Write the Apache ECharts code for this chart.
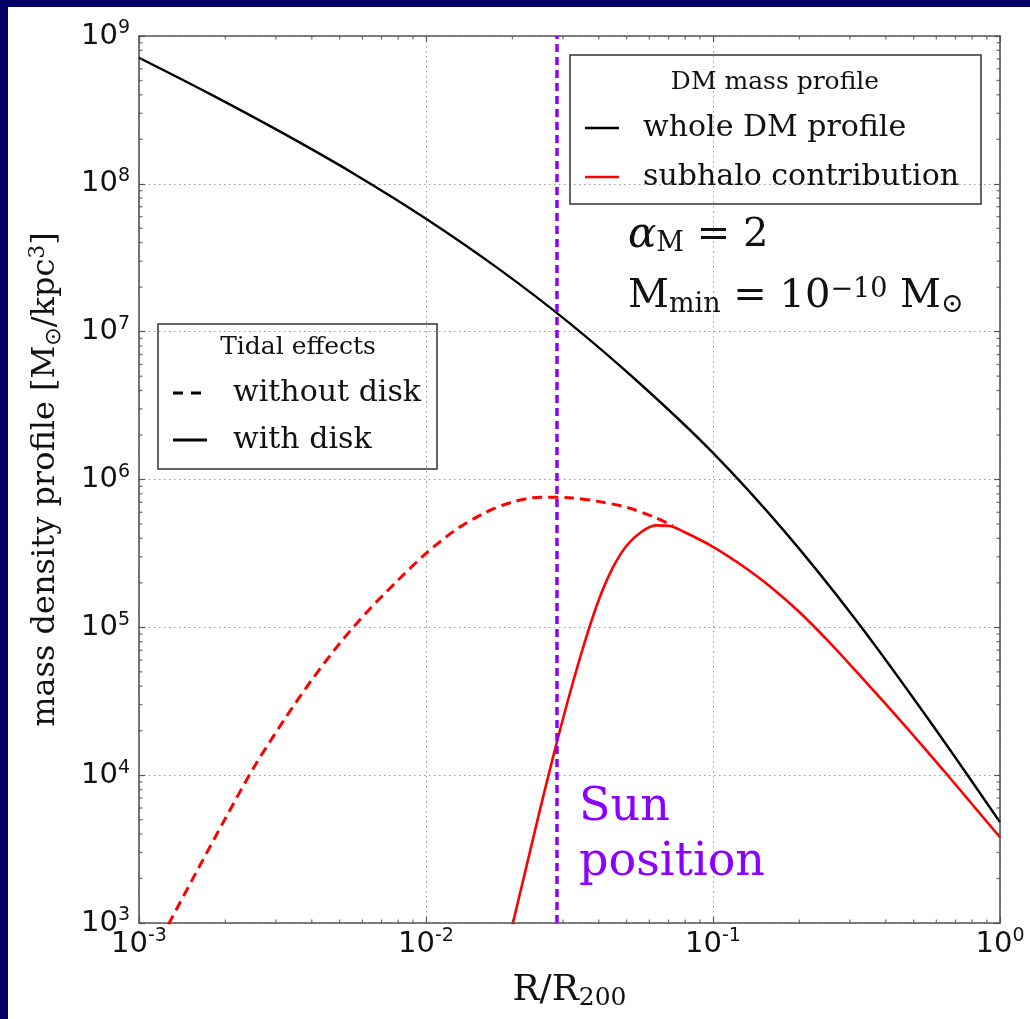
<!DOCTYPE html>
<html><head><meta charset="utf-8">
<script src="https://cdn.jsdelivr.net/npm/echarts@6/dist/echarts.min.js"></script>
<style>
html,body{margin:0;padding:0;background:#000066;width:1030px;height:1019px;overflow:hidden;}
#c{position:absolute;left:8px;top:7px;width:1022px;height:1012px;background:#ffffff;}
</style></head>
<body><div id="c"></div>
<script>
// ---- data (R/R200, density in Msun/kpc^3) ----
var dmR   = [0.001, 0.001778, 0.003162, 0.005623, 0.01, 0.01778, 0.03162, 0.05623, 0.1, 0.1778, 0.3162, 0.5623, 1.0];
var dmRho = [7.13e8, 4.03e8, 2.21e8, 1.167e8, 5.81e7, 2.69e7, 1.143e7, 4.375e6, 1.514e6, 4.44e5, 1.109e5, 2.40e4, 4.81e3];

var diskR   = [0.01905, 0.01995, 0.02239, 0.02512, 0.02818, 0.03162, 0.03548, 0.03981, 0.04467, 0.05012, 0.05623, 0.0631, 0.07079, 0.07943,
               0.1, 0.1259, 0.1585, 0.1995, 0.2512, 0.3162, 0.3981, 0.5012, 0.631, 0.7943, 1.0];
var diskRho = [646, 946, 2415, 6152, 15070, 34990, 75860, 149600, 251200, 358900, 441600, 489800, 484200, 441600,
               350800, 263000, 188400, 127400, 81280, 50120, 30550, 18410, 10960, 6457, 3802];

var noDiskR   = [0.001122, 0.001259, 0.001585, 0.001995, 0.002512, 0.003162, 0.003981, 0.005012, 0.00631, 0.007943, 0.01,
                 0.01259, 0.01585, 0.01995, 0.02512, 0.03162, 0.03981, 0.05012, 0.0631, 0.07244];
var noDiskRho = [631, 959, 2213, 5058, 11270, 22750, 43550, 78160, 130600, 206100, 316200,
                 451900, 588800, 703100, 758600, 753400, 711200, 647100, 552100, 487500];

var sunR = 0.0286;

var xTickExps = [-3, -2, -1, 0];
var yTickExps = [3, 4, 5, 6, 7, 8, 9];

// ---- helpers ----
function pairs(xs, ys){ var o=[]; for(var i=0;i<xs.length;i++) o.push([xs[i], ys[i]]); return o; }
function X(v){ return v - 8; }   // page -> chart coords
function Y(v){ return v - 7; }

var xMin = Math.pow(10, xTickExps[0]), xMax = Math.pow(10, xTickExps[xTickExps.length-1]);
var yMin = Math.pow(10, yTickExps[0]), yMax = Math.pow(10, yTickExps[yTickExps.length-1]);

// minor tick positions (axis decoration)
var xMinor = [], yMinor = [];
for (var e = xTickExps[0]; e < xTickExps[xTickExps.length-1]; e++) for (var k = 2; k <= 9; k++) xMinor.push(k*Math.pow(10,e));
for (var e2 = yTickExps[0]; e2 < yTickExps[yTickExps.length-1]; e2++) for (var k2 = 2; k2 <= 9; k2++) yMinor.push(k2*Math.pow(10,e2));

var AX = '#555';
var tickFmt = function(v){ var ex = Math.round(Math.log10(v)); return '{b|10}{s|' + ex + '}'; };
var tickRich = {
  b: {fontFamily:'DejaVu Sans', fontSize:29, color:'#111', lineHeight:34},
  s: {fontFamily:'DejaVu Sans', fontSize:19, color:'#111', lineHeight:20, verticalAlign:'top'}
};
function minorSeries(data, size, offset){
  return {type:'scatter', data:data, symbol:'rect', symbolSize:size, symbolOffset:offset,
    itemStyle:{color:AX}, silent:true, clip:false, z:6, animation:false, emphasis:{disabled:true}};
}
var serif = 'DejaVu Serif';

var option = {
  animation:false,
  backgroundColor:'#ffffff',
  grid:{left:X(139), right:30, top:Y(36), bottom:96, containLabel:false},
  xAxis:[
    {type:'log', logBase:10, min:xMin, max:xMax, interval:1, position:'bottom',
     axisLine:{show:true, onZero:false, lineStyle:{color:AX, width:1.6}},
     axisTick:{show:true, inside:true, length:6, lineStyle:{color:AX, width:1.2}},
     axisLabel:{formatter:tickFmt, rich:tickRich, margin:4, showMinLabel:true, showMaxLabel:true, hideOverlap:false},
     splitLine:{show:true, lineStyle:{color:'#9a9a9a', width:1, type:[1.5,3.5]}},
     name:'{n|R/R}{sub|200}', nameLocation:'middle', nameGap:48,
     nameTextStyle:{rich:{n:{fontFamily:serif, fontSize:36, color:'#111', lineHeight:40}, sub:{fontFamily:serif, fontSize:25, color:'#111', lineHeight:24, verticalAlign:'bottom'}}}
    },
    {type:'log', logBase:10, min:xMin, max:xMax, interval:1, position:'top',
     axisLine:{show:true, onZero:false, lineStyle:{color:AX, width:1.6}},
     axisTick:{show:true, inside:true, length:6, lineStyle:{color:AX, width:1.2}},
     axisLabel:{show:false}, splitLine:{show:false}}
  ],
  yAxis:[
    {type:'log', logBase:10, min:yMin, max:yMax, interval:1, position:'left',
     axisLine:{show:true, onZero:false, lineStyle:{color:AX, width:1.6}},
     axisTick:{show:true, inside:true, length:6, lineStyle:{color:AX, width:1.2}},
     axisLabel:{formatter:tickFmt, rich:tickRich, margin:9, showMinLabel:true, showMaxLabel:true, hideOverlap:false},
     splitLine:{show:true, lineStyle:{color:'#9a9a9a', width:1, type:[1.5,3.5]}},
     name:'{t|mass density profile [M}{sub|⊙}{t|/kpc}{sup|3}{t|]}', nameLocation:'middle', nameGap:74, nameRotate:90,
     nameTextStyle:{rich:{
       t:{fontFamily:serif, fontSize:32, color:'#111', lineHeight:38},
       sub:{fontFamily:'DejaVu Sans', fontSize:22, color:'#111', lineHeight:22, verticalAlign:'bottom'},
       sup:{fontFamily:serif, fontSize:22, color:'#111', lineHeight:22, verticalAlign:'top'}}}
    },
    {type:'log', logBase:10, min:yMin, max:yMax, interval:1, position:'right',
     axisLine:{show:true, onZero:false, lineStyle:{color:AX, width:1.6}},
     axisTick:{show:true, inside:true, length:6, lineStyle:{color:AX, width:1.2}},
     axisLabel:{show:false}, splitLine:{show:false}}
  ],
  series:[
    {name:'without disk', type:'line', data:pairs(noDiskR, noDiskRho), showSymbol:false, smooth:0.3,
     lineStyle:{color:'#ff0000', width:3, type:[10,6]}, z:3},
    {name:'with disk', type:'line', data:pairs(diskR, diskRho), showSymbol:false, smooth:0.3,
     lineStyle:{color:'#ff0000', width:2.6}, z:3},
    {name:'whole DM profile', type:'line', data:pairs(dmR, dmRho), showSymbol:false, smooth:0.35,
     lineStyle:{color:'#000000', width:2.4}, z:4},
    {name:'Sun position', type:'line', data:[[sunR, yMin],[sunR, yMax]], showSymbol:false, silent:true,
     lineStyle:{color:'#8b00ff', width:3.5, type:[8,5]}, z:5},
    minorSeries(xMinor.map(function(v){return [v, yMin];}), [1.3,3.5], [0,-1.75]),
    minorSeries(xMinor.map(function(v){return [v, yMax];}), [1.3,3.5], [0,1.75]),
    minorSeries(yMinor.map(function(v){return [xMin, v];}), [3.5,1.3], [1.75,0]),
    minorSeries(yMinor.map(function(v){return [xMax, v];}), [3.5,1.3], [-1.75,0])
  ],
  graphic:[
    // legend: DM mass profile
    {type:'rect', shape:{x:X(570), y:Y(55), width:411, height:149}, style:{fill:'none', stroke:'#333', lineWidth:1.5}, z:10},
    {type:'text', x:X(775), y:Y(82), style:{text:'DM mass profile', font:'25px "DejaVu Serif"', fill:'#111', align:'center', verticalAlign:'middle', textAlign:'center', textVerticalAlign:'middle'}, z:10},
    {type:'line', shape:{x1:X(585), y1:Y(128), x2:X(619), y2:Y(128)}, style:{stroke:'#000', lineWidth:2.6}, z:10},
    {type:'text', x:X(643), y:Y(128), style:{text:'whole DM profile', font:'30px "DejaVu Serif"', fill:'#111', align:'left', verticalAlign:'middle', textAlign:'left', textVerticalAlign:'middle'}, z:10},
    {type:'line', shape:{x1:X(585), y1:Y(177), x2:X(619), y2:Y(177)}, style:{stroke:'#ff0000', lineWidth:2.6}, z:10},
    {type:'text', x:X(643), y:Y(177), style:{text:'subhalo contribution', font:'30px "DejaVu Serif"', fill:'#111', align:'left', verticalAlign:'middle', textAlign:'left', textVerticalAlign:'middle'}, z:10},
    // legend: Tidal effects
    {type:'rect', shape:{x:X(158), y:Y(324), width:279, height:145}, style:{fill:'none', stroke:'#333', lineWidth:1.5}, z:10},
    {type:'text', x:X(298), y:Y(347), style:{text:'Tidal effects', font:'25px "DejaVu Serif"', fill:'#111', align:'center', verticalAlign:'middle', textAlign:'center', textVerticalAlign:'middle'}, z:10},
    {type:'line', shape:{x1:X(173), y1:Y(393), x2:X(207), y2:Y(393)}, style:{stroke:'#000', lineWidth:3, lineDash:[10,8]}, z:10},
    {type:'text', x:X(233), y:Y(393), style:{text:'without disk', font:'30px "DejaVu Serif"', fill:'#111', align:'left', verticalAlign:'middle', textAlign:'left', textVerticalAlign:'middle'}, z:10},
    {type:'line', shape:{x1:X(173), y1:Y(440), x2:X(207), y2:Y(440)}, style:{stroke:'#000', lineWidth:3}, z:10},
    {type:'text', x:X(233), y:Y(440), style:{text:'with disk', font:'30px "DejaVu Serif"', fill:'#111', align:'left', verticalAlign:'middle', textAlign:'left', textVerticalAlign:'middle'}, z:10},
    // annotations
    {type:'text', x:X(628), y:Y(215), z:10, style:{text:'{a|α}{sub|M}{t| = 2}', align:'left', verticalAlign:'top', textAlign:'left', textVerticalAlign:'top',
      rich:{a:{font:'italic 42px "DejaVu Serif"', fill:'#111', color:'#111', lineHeight:42},
            t:{font:'40px "DejaVu Serif"', fill:'#111', color:'#111', lineHeight:42},
            sub:{font:'27px "DejaVu Serif"', fill:'#111', color:'#111', lineHeight:23, verticalAlign:'bottom'}}}},
    {type:'text', x:X(628), y:Y(276), z:10, style:{text:'{t|M}{sub|min}{t| = 10}{sup|−10}{t| M}{sub|⊙}', align:'left', verticalAlign:'top', textAlign:'left', textVerticalAlign:'top',
      rich:{t:{font:'40px "DejaVu Serif"', fill:'#111', color:'#111', lineHeight:42},
            sub:{font:'27px "DejaVu Serif"', fill:'#111', color:'#111', lineHeight:23, verticalAlign:'bottom'},
            sup:{font:'27px "DejaVu Serif"', fill:'#111', color:'#111', lineHeight:27, verticalAlign:'top'}}}},
    {type:'text', x:X(579), y:Y(808), z:10, style:{text:'Sun', font:'46px "DejaVu Serif"', fill:'#8b00ff', align:'left', verticalAlign:'middle', textAlign:'left', textVerticalAlign:'middle'}},
    {type:'text', x:X(579), y:Y(863), z:10, style:{text:'position', font:'46px "DejaVu Serif"', fill:'#8b00ff', align:'left', verticalAlign:'middle', textAlign:'left', textVerticalAlign:'middle'}}
  ]
};
var chart = echarts.init(document.getElementById('c'), null, {renderer:'canvas'});
chart.setOption(option);
</script>
</body></html>
